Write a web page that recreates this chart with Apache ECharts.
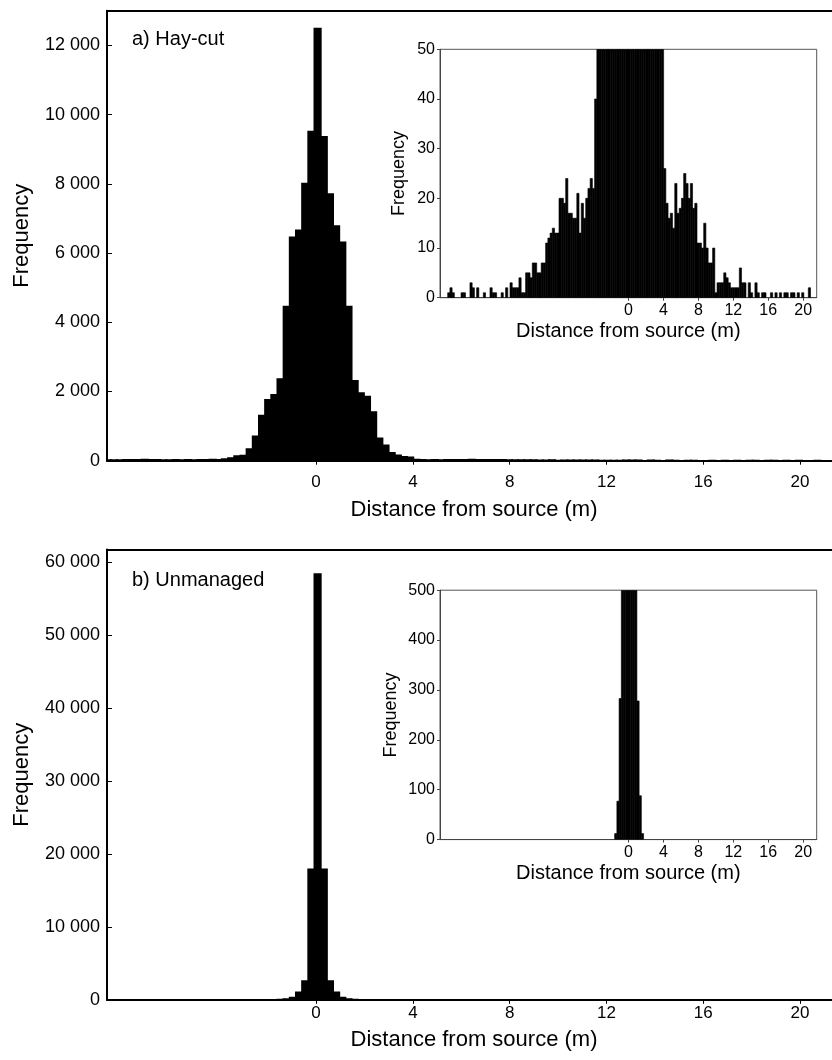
<!DOCTYPE html>
<html>
<head>
<meta charset="utf-8">
<script src="https://cdn.jsdelivr.net/npm/echarts@6/dist/echarts.min.js"></script>
<style>
  html, body { margin: 0; padding: 0; background: #fff; }
  #chart { width: 832px; height: 1060px; }
</style>
</head>
<body>
<div id="chart"></div>
<script>
// histogram bins (m), shared by both panels
var binStart = -21.485;
var binWidth = 0.255;

// a) Hay-cut: counts per bin, from binStart
var hayCounts = [
  0, 0, 0, 1, 2, 1, 0, 0, 0, 1,
  1, 0, 0, 3, 2, 0, 2, 0, 0, 1,
  0, 0, 2, 1, 1, 0, 0, 1, 0, 2,
  0, 3, 2, 2, 2, 4, 1, 1, 5, 5,
  4, 7, 7, 5, 5, 7, 7, 11, 12, 13,
  14, 13, 13, 20, 20, 19, 24, 17, 17, 16,
  16, 21, 13, 19, 16, 20, 22, 24, 22, 40,
  70, 130, 140, 330, 700, 1300, 1750, 1900, 2350, 4450,
  6450, 6650, 8000, 9500, 12480, 9350, 7700, 6770, 6300, 4450,
  2300, 1950, 1850, 1400, 640, 440, 220, 150, 110, 95,
  26, 19, 16, 17, 14, 23, 17, 18, 20, 25,
  23, 20, 23, 18, 19, 11, 11, 10, 15, 10,
  7, 7, 10, 1, 3, 3, 3, 5, 4, 3,
  2, 2, 2, 2, 6, 3, 3, 0, 3, 1,
  0, 3, 1, 0, 1, 1, 0, 0, 1, 0,
  1, 0, 1, 0, 1, 1, 0, 1, 1, 0,
  1, 0, 1, 0, 0, 2, 0, 0, 0
];

// b) Unmanaged: only bins from index 78 hold counts
var unmanagedFirstBin = 78;
var unmanagedCounts = [12, 77, 283, 1015, 2540, 17860, 58370, 17860, 2540, 1015, 278, 88, 12];

var distTicks = [0, 4, 8, 12, 16, 20];
var hayTicks = [0, 2000, 4000, 6000, 8000, 10000, 12000];
var unmanagedTicks = [0, 10000, 20000, 30000, 40000, 50000, 60000];
var hayInsetTicks = [0, 10, 20, 30, 40, 50];
var unmanagedInsetTicks = [0, 100, 200, 300, 400, 500];

var FONT = 'Liberation Sans, Arial, Helvetica, sans-serif';

function thousands(v) {
  return v >= 1000 ? Math.floor(v / 1000) + ' 000' : String(v);
}

function binData(counts, first) {
  var out = [];
  counts.forEach(function (c, i) {
    if (c > 0) {
      var k = first + i;
      out.push([binStart + k * binWidth, binStart + (k + 1) * binWidth, c]);
    }
  });
  return out;
}

function histSeries(counts, first, axis, lineWidth) {
  return {
    type: 'custom',
    xAxisIndex: axis.x,
    yAxisIndex: axis.y,
    clip: true,
    silent: true,
    data: binData(counts, first),
    encode: { x: [0, 1], y: 2 },
    renderItem: function (params, api) {
      var p0 = api.coord([api.value(0), api.value(2)]);
      var p1 = api.coord([api.value(1), 0]);
      return {
        type: 'rect',
        shape: { x: p0[0], y: p0[1], width: p1[0] - p0[0], height: p1[1] - p0[1] },
        style: { fill: '#000', stroke: '#000', lineWidth: lineWidth }
      };
    }
  };
}

function mainX(grid, margin, nameGap) {
  return {
    type: 'value', gridIndex: grid, position: 'bottom',
    min: -8.64, max: 21.32,
    name: 'Distance from source (m)', nameLocation: 'middle', nameGap: nameGap,
    nameTextStyle: { fontFamily: FONT, fontSize: 22, color: '#000', padding: [0, 0, 0, 9] },
    axisLine: { show: true, onZero: false, lineStyle: { color: '#000', width: 2 } },
    axisTick: { show: true, length: 4, customValues: distTicks, lineStyle: { color: '#000' } },
    axisLabel: { customValues: distTicks, margin: margin, fontFamily: FONT, fontSize: 17, color: '#000' },
    splitLine: { show: false }
  };
}

function topLine(grid) {
  return {
    type: 'value', gridIndex: grid, position: 'top',
    min: -8.64, max: 21.32,
    axisLine: { show: true, onZero: false, lineStyle: { color: '#000', width: 2 } },
    axisTick: { show: false }, axisLabel: { show: false }, splitLine: { show: false }
  };
}

function insetX(grid, nameGap) {
  return {
    type: 'value', gridIndex: grid, position: 'bottom',
    min: -21.6, max: 21.55,
    name: 'Distance from source (m)', nameLocation: 'middle', nameGap: nameGap,
    nameTextStyle: { fontFamily: FONT, fontSize: 20, color: '#000' },
    axisLine: { show: true, onZero: false, lineStyle: { color: '#444', width: 1 } },
    axisTick: { show: true, length: 3, customValues: distTicks, lineStyle: { color: '#444' } },
    axisLabel: { customValues: distTicks, margin: 5, fontFamily: FONT, fontSize: 16, color: '#000' },
    splitLine: { show: false }
  };
}

function mainY(grid, max, ticks) {
  return {
    type: 'value', gridIndex: grid, min: 0, max: max,
    name: 'Frequency', nameLocation: 'middle', nameGap: 74,
    nameTextStyle: { fontFamily: FONT, fontSize: 22, color: '#000' },
    axisLine: { show: true, onZero: false, lineStyle: { color: '#000', width: 2 } },
    axisTick: { show: true, inside: true, length: 5, customValues: ticks, lineStyle: { color: '#000' } },
    axisLabel: { customValues: ticks, margin: 7, formatter: thousands, fontFamily: FONT, fontSize: 18, color: '#000' },
    splitLine: { show: false }
  };
}

function insetY(grid, max, ticks, nameGap) {
  return {
    type: 'value', gridIndex: grid, min: 0, max: max,
    name: 'Frequency', nameLocation: 'middle', nameGap: nameGap,
    nameTextStyle: { fontFamily: FONT, fontSize: 18, color: '#000' },
    axisLine: { show: true, onZero: false, lineStyle: { color: '#444', width: 1 } },
    axisTick: { show: true, length: 3, customValues: ticks, lineStyle: { color: '#444' } },
    axisLabel: { customValues: ticks, margin: 5, fontFamily: FONT, fontSize: 16, color: '#000' },
    splitLine: { show: false }
  };
}

var chart = echarts.init(document.getElementById('chart'), null, { renderer: 'canvas' });

chart.setOption({
  backgroundColor: '#fff',
  animation: false,
  grid: [
    { left: 107, top: 10.7, width: 725, height: 450 },
    { left: 107, top: 549.6, width: 725, height: 450.2 },
    { left: 440, top: 49.3, width: 376.7, height: 248.4, show: true, backgroundColor: '#fff', borderColor: '#555', borderWidth: 1 },
    { left: 440, top: 590.2, width: 376.7, height: 249.4, show: true, backgroundColor: '#fff', borderColor: '#555', borderWidth: 1 }
  ],
  xAxis: [
    mainX(0, 13, 38),
    topLine(0),
    mainX(1, 5, 29.5),
    topLine(1),
    insetX(2, 24),
    insetX(3, 23.5)
  ],
  yAxis: [
    mainY(0, 13000, hayTicks),
    mainY(1, 61750, unmanagedTicks),
    insetY(2, 50, hayInsetTicks, 31.5),
    insetY(3, 500, unmanagedInsetTicks, 40)
  ],
  series: [
    histSeries(hayCounts, 0, { x: 0, y: 0 }, 2),
    histSeries(unmanagedCounts, unmanagedFirstBin, { x: 2, y: 1 }, 2),
    histSeries(hayCounts, 0, { x: 4, y: 2 }, 0.6),
    histSeries(unmanagedCounts, unmanagedFirstBin, { x: 5, y: 3 }, 0.6)
  ],
  graphic: [
    { type: 'text', left: 132, top: 29, style: { text: 'a) Hay-cut', font: '20px ' + FONT, fill: '#000' } },
    { type: 'text', left: 132, top: 570, style: { text: 'b) Unmanaged', font: '20px ' + FONT, fill: '#000' } }
  ]
});
</script>
</body>
</html>
